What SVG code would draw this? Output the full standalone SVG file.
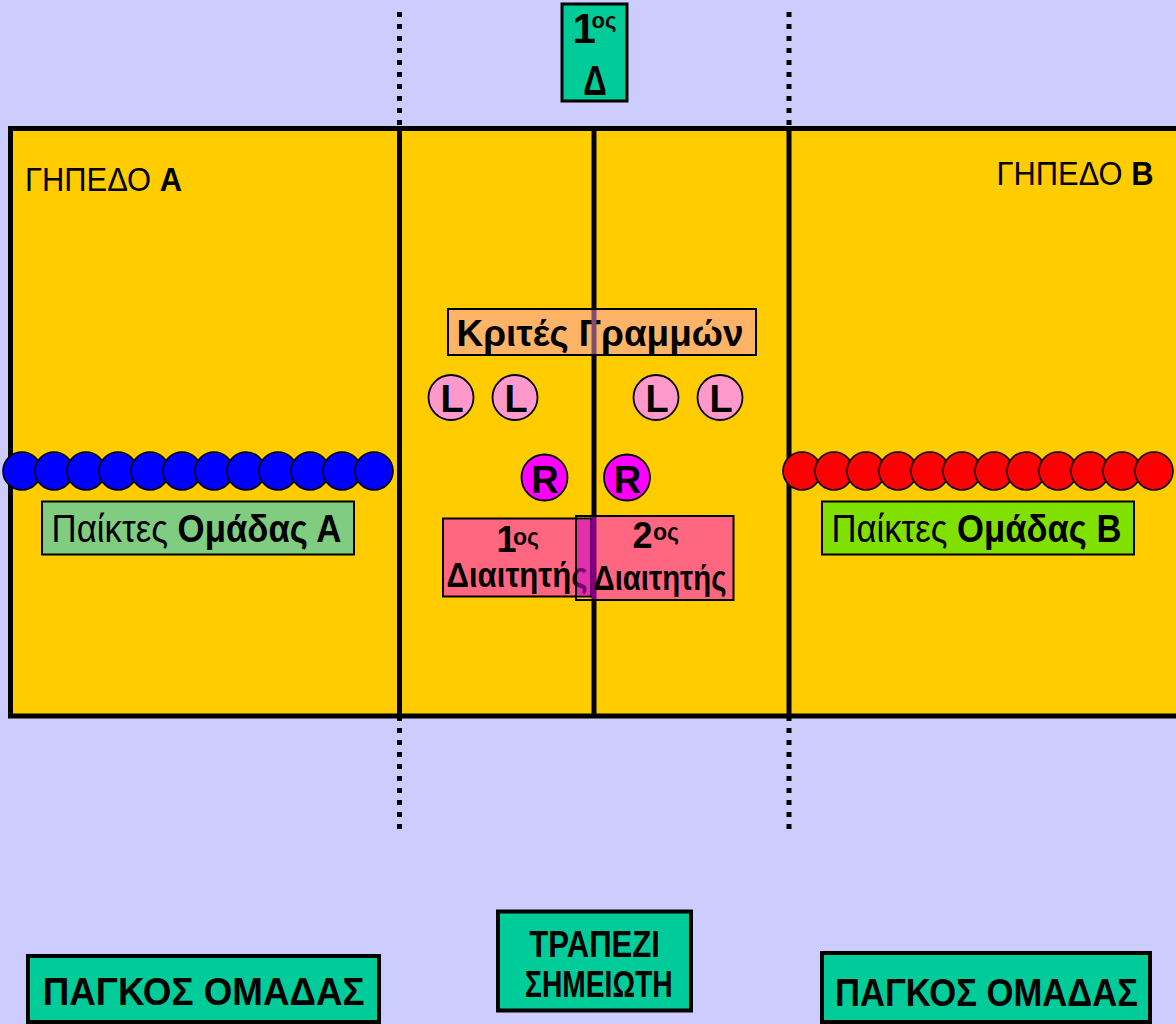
<svg xmlns="http://www.w3.org/2000/svg" width="1176" height="1024" viewBox="0 0 1176 1024">
<style>
.n{font-family:"Liberation Sans Narrow","Liberation Sans",Arial,sans-serif}
.w{font-family:"Liberation Sans",Arial,sans-serif}
.b{font-weight:bold}
.blk{stroke:#000;fill:none}
.pa{fill:#0000FF;stroke:#000;stroke-width:1.6}
.pb{fill:#FF0000;stroke:#000;stroke-width:1.6}
.lj{fill:#FF99CC;stroke:#000;stroke-width:1.8}
.rf{fill:#FF00FF;stroke:#000;stroke-width:1.8}
.dot{stroke:#000;stroke-width:5;stroke-dasharray:5 7;fill:none}
.green{fill:#00CC99;stroke:#000}
.ref{fill:#FF6680}
</style>
<rect width="1176" height="1024" fill="#CCCCFF"/>
<g id="court">
<rect x="10.5" y="128.5" width="1180" height="587.5" fill="#FFCC00" stroke="#000" stroke-width="5"/>
<text class="n" x="25" y="191" font-size="34" textLength="157" lengthAdjust="spacingAndGlyphs">ΓΗΠΕΔΟ <tspan class="b">Α</tspan></text>
<text class="n" x="996.5" y="185" font-size="34" textLength="157" lengthAdjust="spacingAndGlyphs">ΓΗΠΕΔΟ <tspan class="b">Β</tspan></text>
</g>
<g id="connectors">
<line class="blk" x1="399.5" y1="128" x2="399.5" y2="716" stroke-width="5"/>
<line class="blk" x1="594" y1="128" x2="594" y2="716" stroke-width="5"/>
<line class="blk" x1="789" y1="128" x2="789" y2="716" stroke-width="5"/>
<line class="dot" x1="399.5" y1="12" x2="399.5" y2="128"/>
<line class="dot" x1="789" y1="12" x2="789" y2="128"/>
<line class="dot" x1="399.5" y1="716" x2="399.5" y2="830"/>
<line class="dot" x1="789" y1="716" x2="789" y2="830"/>
</g>
<g id="first-referee-top">
<rect class="green" x="562" y="4" width="65" height="97" stroke-width="3"/>
<text class="n b" font-size="42"><tspan x="572.5" y="43">1</tspan><tspan x="591.5" y="28" font-size="22">ος</tspan></text>
<text class="n b" x="583.3" y="95" font-size="42" textLength="23.5" lengthAdjust="spacingAndGlyphs">Δ</text>
</g>
<g id="line-judges-label">
<rect x="448" y="309" width="308" height="46" fill="#FFB366" stroke="#000" stroke-width="2"/>
<text class="w b" x="456.5" y="345.5" font-size="37.5" textLength="287" lengthAdjust="spacingAndGlyphs">Κριτές Γραμμών</text>
<rect x="591.5" y="310" width="5" height="44" fill="#7F4F6F"/>
</g>
<g id="line-judges">
<circle class="lj" cx="451" cy="397.5" r="22.5"/>
<circle class="lj" cx="515" cy="397.5" r="22.5"/>
<circle class="lj" cx="656" cy="397.5" r="22.5"/>
<circle class="lj" cx="720" cy="397.5" r="22.5"/>
<g class="w b" font-size="38" text-anchor="middle">
<text x="452" y="411.5">L</text><text x="516" y="411.5">L</text><text x="657" y="411.5">L</text><text x="721" y="411.5">L</text>
</g>
</g>
<g id="referees">
<circle class="rf" cx="544.5" cy="477.5" r="23"/>
<circle class="rf" cx="627" cy="477.5" r="23"/>
<g class="w b" font-size="38" text-anchor="middle">
<text x="545" y="493">R</text><text x="627.5" y="493">R</text>
</g>
</g>
<g id="team-a">
<circle class="pa" cx="22" cy="471" r="19"/><circle class="pa" cx="54" cy="471" r="19"/><circle class="pa" cx="86" cy="471" r="19"/><circle class="pa" cx="118" cy="471" r="19"/><circle class="pa" cx="150" cy="471" r="19"/><circle class="pa" cx="182" cy="471" r="19"/><circle class="pa" cx="214" cy="471" r="19"/><circle class="pa" cx="246" cy="471" r="19"/><circle class="pa" cx="278" cy="471" r="19"/><circle class="pa" cx="310" cy="471" r="19"/><circle class="pa" cx="342" cy="471" r="19"/><circle class="pa" cx="374" cy="471" r="19"/>
<rect x="42" y="501.5" width="312" height="53" fill="#80CC80" stroke="#000" stroke-width="2"/>
<text class="n" x="51.5" y="541.5" font-size="38" textLength="290" lengthAdjust="spacingAndGlyphs">Παίκτες <tspan class="b">Ομάδας Α</tspan></text>
</g>
<g id="team-b">
<circle class="pb" cx="802" cy="471" r="19"/><circle class="pb" cx="834" cy="471" r="19"/><circle class="pb" cx="866" cy="471" r="19"/><circle class="pb" cx="898" cy="471" r="19"/><circle class="pb" cx="930" cy="471" r="19"/><circle class="pb" cx="962" cy="471" r="19"/><circle class="pb" cx="994" cy="471" r="19"/><circle class="pb" cx="1026" cy="471" r="19"/><circle class="pb" cx="1058" cy="471" r="19"/><circle class="pb" cx="1090" cy="471" r="19"/><circle class="pb" cx="1122" cy="471" r="19"/><circle class="pb" cx="1154" cy="471" r="19"/>
<rect x="822" y="501.5" width="312" height="53" fill="#80E000" stroke="#000" stroke-width="2"/>
<text class="n" x="831.5" y="541.5" font-size="38" textLength="290" lengthAdjust="spacingAndGlyphs">Παίκτες <tspan class="b">Ομάδας Β</tspan></text>
</g>
<rect class="ref" x="591" y="516" width="142.5" height="84"/>
<g id="first-referee">
<rect class="ref" x="443" y="518.5" width="148" height="78" stroke="#000" stroke-width="2"/>
<text class="n b" font-size="36"><tspan x="496.5" y="551.5">1</tspan><tspan x="513" y="545" font-size="23">ος</tspan></text>
<text class="w b" x="446.5" y="586.5" font-size="35" textLength="141" lengthAdjust="spacingAndGlyphs">Διαιτητής</text>
</g>
<g id="second-referee">
<rect x="591.5" y="516" width="5" height="84" fill="#800080"/>
<rect x="577" y="519.5" width="14.5" height="76" fill="#CC00CC" fill-opacity="0.55"/>
<rect x="576" y="516" width="157.5" height="84" fill="none" stroke="#000" stroke-width="2"/>
<text class="n b" font-size="36"><tspan x="632.5" y="548.3">2</tspan><tspan x="653" y="540" font-size="23">ος</tspan></text>
<text class="w b" x="593.5" y="590" font-size="35" textLength="133" lengthAdjust="spacingAndGlyphs">Διαιτητής</text>
</g>
<g id="bench-a">
<rect class="green" x="28" y="956" width="351" height="66" stroke-width="4"/>
<text class="n b" x="42.7" y="1005" font-size="38" textLength="322" lengthAdjust="spacingAndGlyphs">ΠΑΓΚΟΣ ΟΜΑΔΑΣ</text>
</g>
<g id="scorer-table">
<rect class="green" x="498" y="911.5" width="193" height="99" stroke-width="4"/>
<text class="n b" x="529.3" y="956.7" font-size="37" textLength="130.7" lengthAdjust="spacingAndGlyphs">ΤΡΑΠΕΖΙ</text>
<text class="n b" x="525" y="996.7" font-size="37" textLength="147.7" lengthAdjust="spacingAndGlyphs">ΣΗΜΕΙΩΤΗ</text>
</g>
<g id="bench-b">
<rect class="green" x="822" y="953" width="328" height="69" stroke-width="4"/>
<text class="n b" x="835" y="1005.5" font-size="38" textLength="303" lengthAdjust="spacingAndGlyphs">ΠΑΓΚΟΣ ΟΜΑΔΑΣ</text>
</g>
</svg>
